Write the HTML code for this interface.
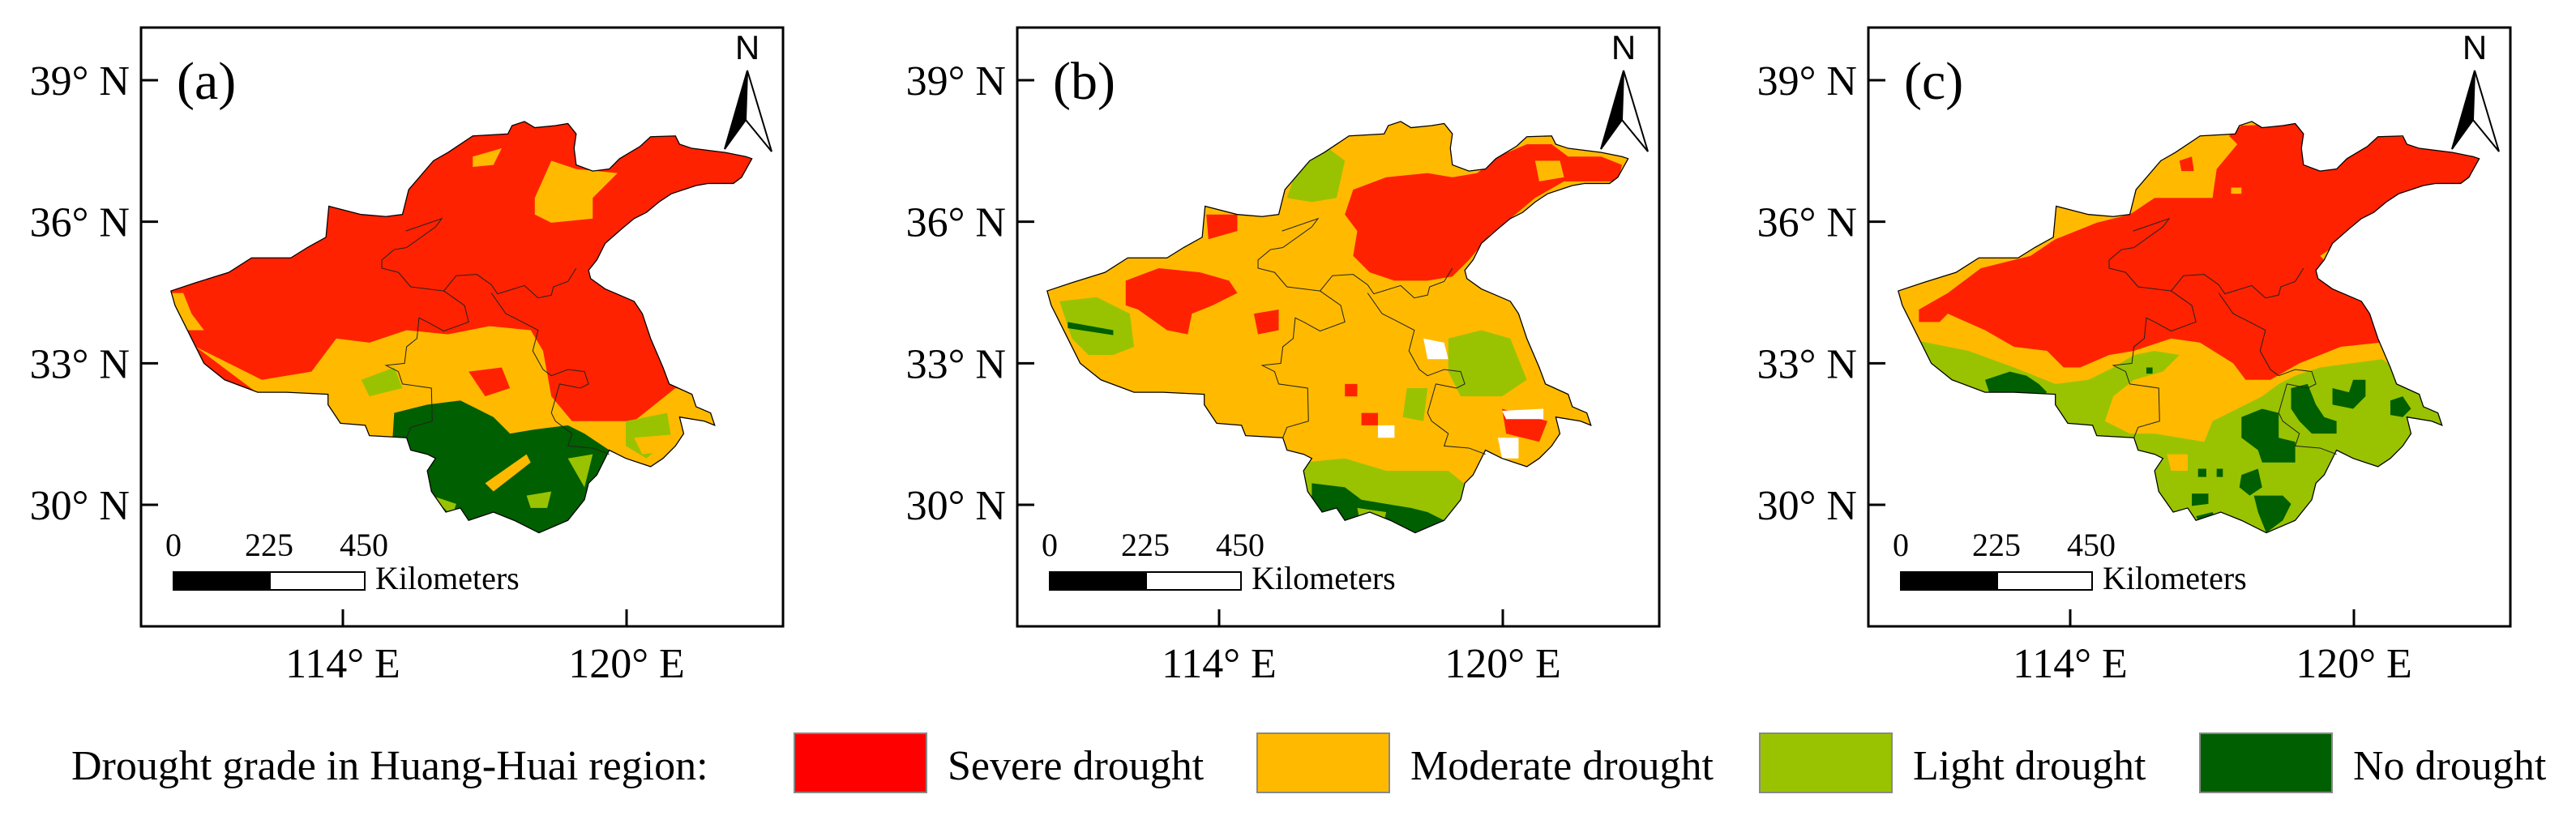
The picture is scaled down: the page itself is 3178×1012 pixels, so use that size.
<!DOCTYPE html>
<html><head><meta charset="utf-8"><style>
html,body{margin:0;padding:0;background:#fff;}
svg{display:block;}
text{font-family:"Liberation Serif",serif;fill:#000;}
</style></head><body>
<svg id="fig" width="3178" height="1012" viewBox="0 0 3178 1012" xmlns="http://www.w3.org/2000/svg">
<defs>
<clipPath id="region" clipPathUnits="userSpaceOnUse">
<polygon points="80,645 140,625 220,600 275,565 370,565 410,540 455,515 462,440 540,460 600,465 640,460 655,400 715,330 750,310 810,270 895,265 905,245 935,235 960,250 1010,245 1040,240 1060,265 1055,300 1060,340 1100,355 1140,350 1165,325 1215,295 1240,272 1300,270 1310,290 1340,300 1420,310 1470,320 1485,325 1460,370 1440,385 1380,385 1350,390 1290,410 1260,430 1230,455 1200,470 1170,495 1130,530 1110,570 1090,595 1095,615 1130,640 1200,670 1220,700 1240,760 1270,830 1285,870 1340,895 1350,925 1385,940 1395,970 1370,960 1310,950 1320,990 1300,1020 1270,1050 1240,1070 1180,1050 1140,1030 1110,1090 1090,1110 1080,1150 1040,1200 970,1230 910,1200 860,1180 800,1200 780,1170 745,1180 710,1130 700,1080 720,1050 700,1040 660,1030 650,1000 560,995 550,970 490,965 460,920 460,895 360,890 290,890 210,860 160,820 140,780 110,720 90,680"/>
</clipPath>
<g id="outline-shape">
<polygon points="80,645 140,625 220,600 275,565 370,565 410,540 455,515 462,440 540,460 600,465 640,460 655,400 715,330 750,310 810,270 895,265 905,245 935,235 960,250 1010,245 1040,240 1060,265 1055,300 1060,340 1100,355 1140,350 1165,325 1215,295 1240,272 1300,270 1310,290 1340,300 1420,310 1470,320 1485,325 1460,370 1440,385 1380,385 1350,390 1290,410 1260,430 1230,455 1200,470 1170,495 1130,530 1110,570 1090,595 1095,615 1130,640 1200,670 1220,700 1240,760 1270,830 1285,870 1340,895 1350,925 1385,940 1395,970 1370,960 1310,950 1320,990 1300,1020 1270,1050 1240,1070 1180,1050 1140,1030 1110,1090 1090,1110 1080,1150 1040,1200 970,1230 910,1200 860,1180 800,1200 780,1170 745,1180 710,1130 700,1080 720,1050 700,1040 660,1030 650,1000 560,995 550,970 490,965 460,920 460,895 360,890 290,890 210,860 160,820 140,780 110,720 90,680" fill="none" stroke="#000" stroke-width="2.5"/>
<polyline points="648,500 735,470 720,490 650,540 620,545 590,570 590,590 630,600 660,635 740,645 770,608 820,605 855,630 870,652 935,632 968,662 1000,655 1005,635 1040,622 1060,590" fill="none" stroke="#222" stroke-width="2"/>
<polyline points="740,645 790,680 800,720 740,742 700,720 680,710 675,760 650,780 645,820 600,825 630,840 640,870 710,880 712,960 660,975 650,1000" fill="none" stroke="#222" stroke-width="2"/>
<polyline points="855,650 890,700 920,715 968,740 955,790 980,835 1000,850 1040,835 1080,840 1090,870 1070,880 1020,870 1000,940 1010,960 1050,990 1040,1020 1100,1025 1140,1040" fill="none" stroke="#222" stroke-width="2"/>
</g>
</defs>

<!-- Panel a -->
<g transform="translate(170,30) scale(0.5102)">
<g clip-path="url(#region)">
<rect x="50" y="200" width="1500" height="1100" fill="#FF2200"/>
<polygon fill="#FFBA00" points="80,650 110,650 130,700 160,740 110,740"/>
<polygon fill="#FFBA00" points="140,780 300,860 420,840 480,760 560,770 650,740 750,750 850,730 950,740 980,790 1000,900 1050,960 1200,960 1300,880 1400,900 1400,1100 460,1100 300,900"/>
<polygon fill="#FF2200" points="980,760 1050,700 1100,700 1200,720 1270,830 1280,880 1200,920 1100,940 1040,940 1000,900"/>
<polygon fill="#FF2200" points="800,840 880,830 900,880 840,900"/>
<polygon fill="#FF2200" points="330,800 380,795 385,815 330,815"/>
<polygon fill="#FFBA00" points="960,420 1000,330 1060,350 1160,360 1100,420 1100,470 1000,480 960,460"/>
<polygon fill="#FFBA00" points="810,320 880,300 860,340 810,345"/>
<polygon fill="#99C300" points="540,860 620,830 640,880 560,900"/>
<polygon fill="#99C300" points="1180,960 1280,940 1290,1000 1230,1050 1180,1020"/>
<polygon fill="#005F00" points="620,940 700,920 780,910 860,950 900,990 960,980 1040,970 1080,990 1140,1030 1150,1250 600,1250"/>
<polygon fill="#FFBA00" points="840,1110 940,1040 950,1060 860,1130"/>
<polygon fill="#99C300" points="710,1140 770,1160 760,1190"/>
<polygon fill="#99C300" points="940,1140 1000,1130 990,1170 950,1170"/>
<polygon fill="#99C300" points="1040,1050 1100,1040 1080,1120"/>
<polygon fill="#FFBA00" points="1200,1000 1320,990 1300,1030 1220,1040"/>
</g>
<use href="#outline-shape"/>
</g>

<!-- Panel b -->
<g transform="translate(1251,30) scale(0.5102)">
<g clip-path="url(#region)">
<rect x="50" y="200" width="1500" height="1100" fill="#FFBA00"/>
<polygon fill="#FF2200" points="820,400 900,370 1000,360 1060,370 1120,360 1170,320 1240,290 1300,290 1340,320 1420,320 1470,340 1460,380 1330,380 1260,420 1200,470 1150,510 1100,570 1060,610 1000,620 920,620 860,600 820,560 830,500 800,460"/>
<polygon fill="#FFBA00" points="1260,330 1320,330 1330,370 1270,380"/>
<polygon fill="#FF2200" points="270,620 350,590 450,600 520,620 540,650 480,680 430,700 420,750 370,740 300,690 270,680"/>
<polygon fill="#FF2200" points="465,460 540,460 540,500 470,520"/>
<polygon fill="#FF2200" points="580,700 640,690 640,740 590,750"/>
<polygon fill="#99C300" points="110,670 200,660 280,700 290,780 240,800 180,800 140,760"/>
<polygon fill="#005F00" points="130,720 240,740 240,752 130,735"/>
<polygon fill="#99C300" points="700,320 760,300 800,330 780,420 720,430 660,420 680,360"/>
<polygon fill="#99C300" points="1050,760 1130,740 1200,760 1240,860 1180,900 1080,900 1050,840"/>
<polygon fill="#99C300" points="950,880 1000,880 990,960 940,950"/>
<polygon fill="#99C300" points="700,1060 800,1050 900,1080 1050,1080 1100,1120 1100,1250 700,1250"/>
<polygon fill="#005F00" points="720,1110 800,1120 840,1150 900,1160 960,1170 1000,1180 1040,1200 1040,1250 720,1250"/>
<polygon fill="#99C300" points="830,1170 900,1180 890,1220 840,1220"/>
<polygon fill="#FF2200" points="1180,930 1290,960 1270,1010 1190,990"/>
<polygon fill="#FF2200" points="800,870 830,870 830,900 800,900"/>
<polygon fill="#FF2200" points="840,940 880,940 880,970 840,970"/>
<polygon fill="#FFFFFF" points="990,760 1040,770 1050,810 1000,810"/>
<polygon fill="#FFFFFF" points="1170,1000 1220,1000 1220,1050 1180,1050"/>
<polygon fill="#FFFFFF" points="880,970 920,970 920,1000 880,1000"/>
<polygon fill="#FFFFFF" points="1180,935 1280,930 1280,955 1190,955"/>
</g>
<use href="#outline-shape"/>
</g>

<!-- Panel c -->
<g transform="translate(2301,30) scale(0.5102)">
<g clip-path="url(#region)">
<rect x="50" y="200" width="1500" height="1100" fill="#FFBA00"/>
<polygon fill="#99C300" points="100,760 250,790 360,830 460,870 540,860 600,830 650,800 700,790 760,800 720,840 650,860 600,900 580,960 640,990 700,990 760,1000 820,1010 840,960 900,930 960,900 1000,870 1040,850 1100,830 1250,810 1350,880 1420,960 1420,1300 100,1300"/>
<polygon fill="#FF2200" points="130,690 200,650 280,590 400,560 460,520 560,480 640,460 700,420 840,420 850,350 900,290 880,270 910,245 1060,240 1500,300 1500,400 1250,460 1100,560 1220,680 1245,770 1150,780 1050,820 980,860 920,860 890,820 810,770 740,760 650,790 590,800 520,830 480,830 440,790 360,780 290,740 200,700 180,720 130,720"/>
<polygon fill="#FF2200" points="760,330 790,320 795,355 765,355"/>
<polygon fill="#FFBA00" points="885,395 910,395 910,410 885,410"/>
<polygon fill="#FFBA00" points="730,1040 780,1040 780,1080 740,1080"/>
<polygon fill="#005F00" points="290,860 350,840 390,850 420,870 440,890 420,900 300,890"/>
<polygon fill="#005F00" points="1030,880 1070,870 1090,920 1110,950 1140,960 1140,990 1080,990 1050,960 1030,930"/>
<polygon fill="#005F00" points="1130,880 1170,890 1180,860 1210,860 1210,900 1180,930 1130,920"/>
<polygon fill="#005F00" points="1270,910 1300,900 1320,930 1300,950 1270,945"/>
<polygon fill="#005F00" points="910,950 960,930 1000,940 1000,1000 1040,1010 1040,1060 960,1060 950,1030 910,1000"/>
<polygon fill="#005F00" points="910,1090 950,1075 960,1120 930,1140 905,1120"/>
<polygon fill="#005F00" points="940,1140 1010,1140 1030,1160 1010,1200 970,1230 950,1180"/>
<polygon fill="#005F00" points="790,1135 830,1135 830,1160 790,1165"/>
<polygon fill="#005F00" points="800,1190 840,1180 850,1200 810,1210"/>
<polygon fill="#005F00" points="805,1075 825,1075 825,1095 805,1095"/>
<polygon fill="#005F00" points="850,1075 865,1075 865,1095 850,1095"/>
<polygon fill="#005F00" points="680,830 695,830 695,845 680,845"/>
</g>
<use href="#outline-shape"/>
</g>

<g id="axes"></g>

<g id="legend">
<text x="88" y="962" font-size="52">Drought grade in Huang-Huai region:</text>
</g>
</svg>
<script>
const yTickLabels = ["39° N", "36° N", "33° N", "30° N"];
const yTickLat = [39, 36, 33, 30];
const xTickLabels = ["114° E", "120° E"];
const xTickLon = [114, 120];
const panelLabels = ["(a)", "(b)", "(c)"];
const panelOffsets = [174, 1255, 2305];
const legendCats = ["Severe drought", "Moderate drought", "Light drought", "No drought"];
const legendColors = ["#FF0000", "#FFBA00", "#99C300", "#005F00"];

const NS = "http://www.w3.org/2000/svg";
const FW = 792, FT = 34, FB = 773;
function yLat(lat){ return 99 + (39 - lat) * (623 - 99) / 9; }
function xLon(lon){ return 249 + (lon - 114) * (599 - 249) / 6; }
function mk(tag, attrs, parent){ const e = document.createElementNS(NS, tag); for (const k in attrs) e.setAttribute(k, attrs[k]); parent.appendChild(e); return e; }
const axes = document.getElementById('axes');
panelOffsets.forEach((L, p) => {
  const g = mk('g', {}, axes);
  
  
  const fr = mk('rect', {x: L, y: FT, width: FW, height: FB - FT, fill: 'none', stroke: '#000', 'stroke-width': 3}, g);
  
  
  yTickLat.forEach((lat, i) => {
    const y = yLat(lat);
    const t = mk('line', {x1: L, x2: L + 21, y1: y, y2: y, stroke: '#000', 'stroke-width': 3}, g);
    
    
    const tx = mk('text', {x: L - 14, y: y + 18, 'font-size': 52, 'text-anchor': 'end'}, g);
    tx.textContent = yTickLabels[i];
    
    
  });
  xTickLon.forEach((lon, i) => {
    const x = L + xLon(lon);
    const t = mk('line', {x1: x, x2: x, y1: FB - 21, y2: FB, stroke: '#000', 'stroke-width': 3}, g);
    
    
    const tx = mk('text', {x: x, y: 836, 'font-size': 52, 'text-anchor': 'middle'}, g);
    tx.textContent = xTickLabels[i];
    
    
  });
  const pl = mk('text', {x: L + 44, y: 122, 'font-size': 66}, g);
  pl.textContent = panelLabels[p];
  
  
  const na = mk('g', {}, g);
  
  
  const n = mk('text', {x: L + 748, y: 73, 'font-size': 42, 'text-anchor': 'middle'}, na);
  n.style.fontFamily = '"Liberation Sans", sans-serif';
  n.textContent = 'N';
  mk('polygon', {points: `${L+748},87 ${L+720},184 ${L+746},148`, fill: '#000', stroke: '#000', 'stroke-width': 2}, na);
  mk('polygon', {points: `${L+748},87 ${L+778},187 ${L+746},148`, fill: '#fff', stroke: '#000', 'stroke-width': 2}, na);
  const sb = mk('g', {}, g);
  
  
  [['0', 40], ['225', 158], ['450', 275]].forEach(([s, dx]) => {
    const t = mk('text', {x: L + dx, y: 686, 'font-size': 40, 'text-anchor': 'middle'}, sb);
    t.textContent = s;
  });
  mk('rect', {x: L + 40, y: 706, width: 119, height: 22, fill: '#000', stroke: '#000', 'stroke-width': 2}, sb);
  mk('rect', {x: L + 159, y: 706, width: 117, height: 22, fill: '#fff', stroke: '#000', 'stroke-width': 2}, sb);
  const km = mk('text', {x: L + 289, y: 727, 'font-size': 40}, sb);
  km.textContent = 'Kilometers';
});
const leg = document.getElementById('legend');
const swX = [980, 1551, 2171, 2714];
legendCats.forEach((c, i) => {
  const r = mk('rect', {x: swX[i], y: 905, width: 163, height: 73, fill: legendColors[i], stroke: '#888', 'stroke-width': 2}, leg);
  
  
  const t = mk('text', {x: swX[i] + 189, y: 962, 'font-size': 52}, leg);
  t.textContent = c;
  
  
});
</script>
</body></html>
